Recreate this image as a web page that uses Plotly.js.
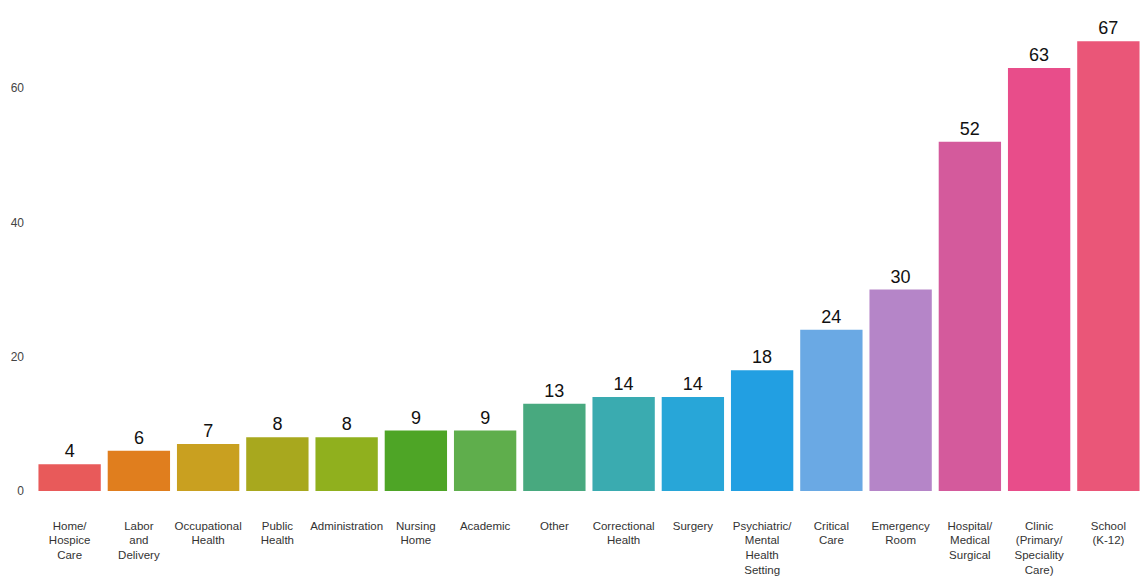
<!DOCTYPE html>
<html>
<head>
<meta charset="utf-8">
<script src="https://cdn.plot.ly/plotly-3.0.1.min.js"></script>
<style>html,body{margin:0;padding:0;background:#fff}#chart{width:1143px;height:576px}</style>
</head>
<body>
<div id="chart"></div>
<script>
const categories = [
  "Home/<br>Hospice<br>Care",
  "Labor<br>and<br>Delivery",
  "Occupational<br>Health",
  "Public<br>Health",
  "Administration",
  "Nursing<br>Home",
  "Academic",
  "Other",
  "Correctional<br>Health",
  "Surgery",
  "Psychiatric/<br>Mental<br>Health<br>Setting",
  "Critical<br>Care",
  "Emergency<br>Room",
  "Hospital/<br>Medical<br>Surgical",
  "Clinic<br>(Primary/<br>Speciality<br>Care)",
  "School<br>(K-12)"
];
const values = [4, 6, 7, 8, 8, 9, 9, 13, 14, 14, 18, 24, 30, 52, 63, 67];
const barColors = [
  "#e85a5a", "#e07e1e", "#c9a020", "#a8a81e", "#90b01e", "#4ea526",
  "#5fae4c", "#48a97f", "#3aabb0", "#28a6d8", "#229fe2", "#6aa9e4",
  "#b585c8", "#d45a9c", "#e84d8a", "#ea5678"
];
const yTicks = [0, 20, 40, 60];

Plotly.newPlot("chart", [{
  type: "bar",
  x: categories,
  y: values,
  marker: {color: barColors},
  text: values.map(String),
  textposition: "outside",
  cliponaxis: false,
  textfont: {family: "Liberation Sans, Arial, sans-serif", size: 18, color: "#111"},
  hoverinfo: "x+y"
}], {
  width: 1143,
  height: 576,
  margin: {l: 35, r: 0, t: 21, b: 85},
  paper_bgcolor: "#ffffff",
  plot_bgcolor: "#ffffff",
  bargap: 0.1,
  showlegend: false,
  font: {family: "Liberation Sans, Arial, sans-serif", color: "#333"},
  xaxis: {
    tickangle: 0,
    tickfont: {size: 11.5, color: "#333"},
    showline: false,
    showgrid: false,
    zeroline: false,
    ticks: "",
    ticklabelstandoff: 26,
    automargin: false
  },
  yaxis: {
    range: [0, 70],
    tickvals: yTicks,
    ticktext: yTicks.map(String),
    tickfont: {size: 12, color: "#444"},
    showgrid: false,
    zeroline: false,
    showline: false,
    ticks: "",
    ticklabelstandoff: 10,
    automargin: false
  }
}, {displayModeBar: false, staticPlot: true});
</script>
</body>
</html>
